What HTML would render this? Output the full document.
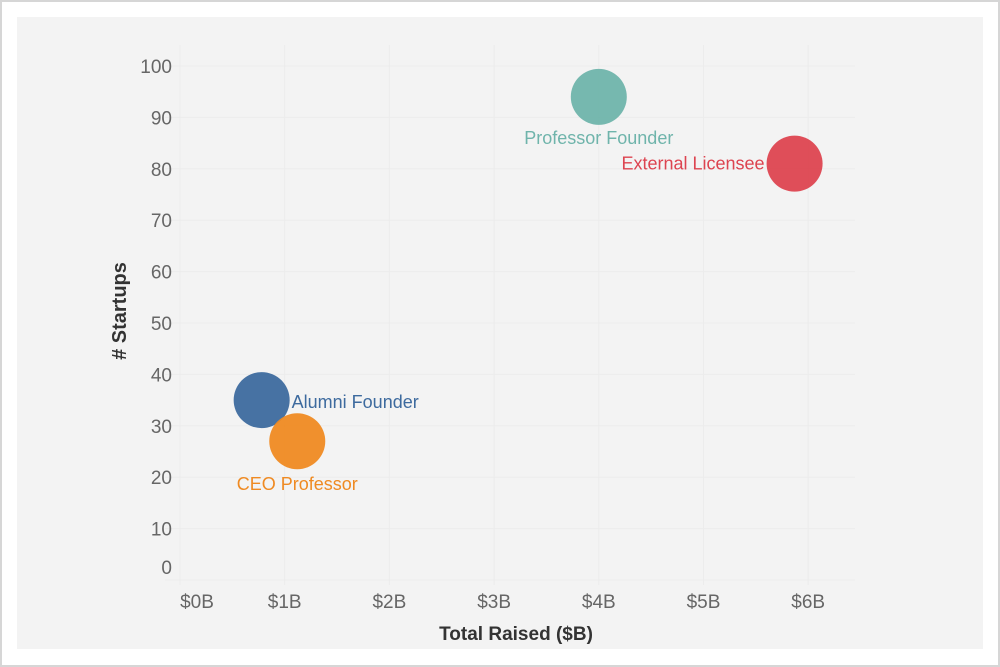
<!DOCTYPE html>
<html><head><meta charset="utf-8"><style>
body{margin:0;background:#fff;width:1000px;height:667px;overflow:hidden;font-family:"Liberation Sans",sans-serif}
#frame{position:absolute;left:0;top:0;width:996px;height:663px;border:2px solid #d6d6d6;background:#fff}
#panel{position:absolute;left:17px;top:17px;width:966px;height:632px;background:#f3f3f3}
svg{position:absolute;left:0;top:0}
</style></head><body>
<div id="frame"></div>
<div id="panel"></div>
<svg id="chart" width="1000" height="667"></svg>
<script>
const names=["Alumni Founder","CEO Professor","Professor Founder","External Licensee"];
const raised=[0.78,1.12,4.0,5.87];
const startups=[35,27,94,81];
const colors=["#3d6a9e","#ef8a22","#6fb4ab","#dd4450"];
const xTicks=[0,1,2,3,4,5,6];
const xTickLabels=["$0B","$1B","$2B","$3B","$4B","$5B","$6B"];
const yTicks=[0,10,20,30,40,50,60,70,80,90,100];
const NS="http://www.w3.org/2000/svg";
const svg=document.getElementById('chart');
function X(v){return 180+104.7*v;}
function Y(v){return 580-5.14*v;}
function mk(t,a,p){const e=document.createElementNS(NS,t);for(const k in a)e.setAttribute(k,a[k]);(p||svg).appendChild(e);return e;}
xTicks.forEach((v,i)=>{
  const l=mk('line',{x1:X(v),x2:X(v),y1:45,y2:585,stroke:'#ececec','stroke-width':1});
  
  
  const t=mk('text',{x:X(v)+(i==0?17:0),y:608,'text-anchor':'middle','font-size':19,fill:'#666'});
  t.textContent=xTickLabels[i];
  
  
});
yTicks.forEach(v=>{
  const l=mk('line',{x1:165,x2:855,y1:Y(v),y2:Y(v),stroke:'#ececec','stroke-width':1});
  
  
  const t=mk('text',{x:172,y:(v==0?567:Y(v))+7,'text-anchor':'end','font-size':19,fill:'#666'});
  t.textContent=v;
  
  
});
const lblPos=[[30,8,'start'],[0,49,'middle'],[0,47,'middle'],[-30,6,'end']];
names.forEach((n,i)=>{
  const cx=X(raised[i]),cy=Y(startups[i]);
  const c=mk('circle',{cx:cx,cy:cy,r:28,fill:colors[i],opacity:0.95});
  
  
  const t=mk('text',{x:cx+lblPos[i][0],y:cy+lblPos[i][1],'text-anchor':lblPos[i][2],'font-size':18,fill:colors[i]});
  t.textContent=n;
  
  
});
const xt=mk('text',{x:516,y:640,'text-anchor':'middle','font-size':19,'font-weight':'bold',fill:'#333'});
xt.textContent='Total Raised ($B)';


const yt=mk('text',{x:0,y:0,'text-anchor':'middle','font-size':20,'font-weight':'bold',fill:'#333',transform:'translate(126,311) rotate(-90)'});
yt.textContent='# Startups';


</script>
</body></html>
